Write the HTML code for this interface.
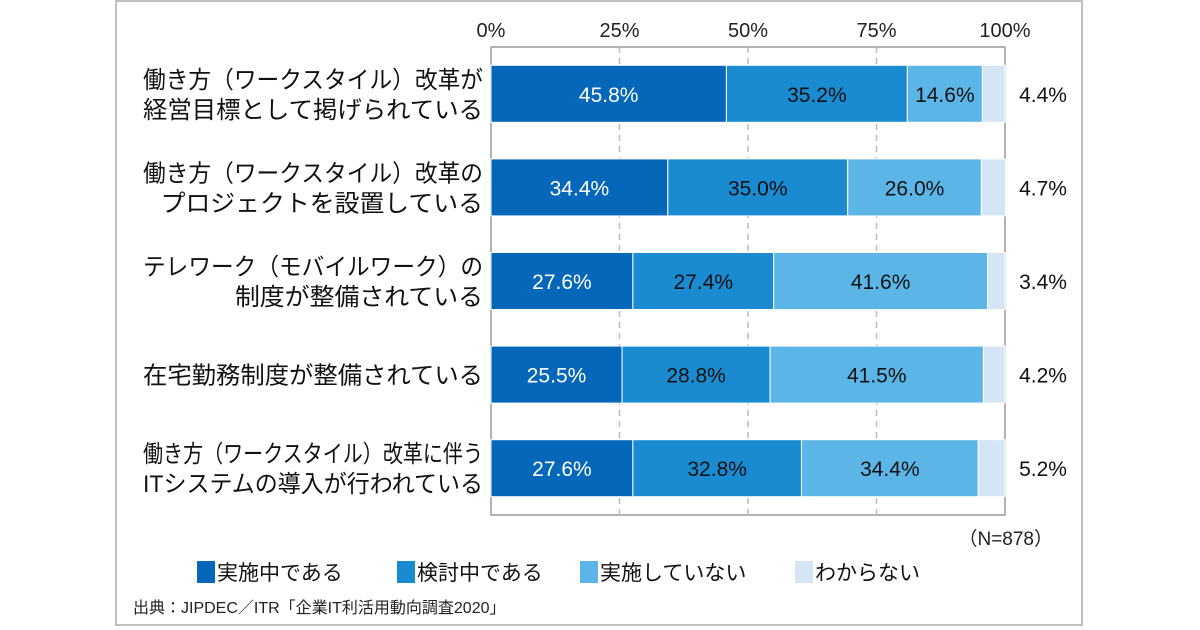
<!DOCTYPE html>
<html><head><meta charset="utf-8"><style>
body{margin:0;background:#fff;width:1200px;height:630px;overflow:hidden}
svg{display:block;font-family:"Liberation Sans","Noto Sans CJK JP",sans-serif}
</style></head><body>
<svg id="chart" width="1200" height="630">
<rect x="116" y="1" width="966" height="624" fill="#fff" stroke="#aaa" stroke-width="1.5"/>
</svg>
<script>
const categories=[["働き方（ワークスタイル）改革が","経営目標として掲げられている"],["働き方（ワークスタイル）改革の","プロジェクトを設置している"],["テレワーク（モバイルワーク）の","制度が整備されている"],["在宅勤務制度が整備されている"],["働き方（ワークスタイル）改革に伴う","ITシステムの導入が行われている"]];
const seriesNames=["実施中である","検討中である","実施していない","わからない"];
const implemented=[45.8,34.4,27.6,25.5,27.6];
const considering=[35.2,35.0,27.4,28.8,32.8];
const notImplemented=[14.6,26.0,41.6,41.5,34.4];
const unknown=[4.4,4.7,3.4,4.2,5.2];
const ticks=[0,25,50,75,100];
const colors=["#0567b9","#1a8bd1","#5cb5e7","#d4e5f6"];
const NS="http://www.w3.org/2000/svg";
const svg=document.getElementById('chart');
const X0=491,X1=1005,Y0=47,Y1=515;
const x=v=>X0+(X1-X0)*v/100;
const rowH=(Y1-Y0)/categories.length;
const yc=i=>Y0+rowH*(i+0.5);
const BH=57;
function el(t,a,txt){const e=document.createElementNS(NS,t);for(const k in a)e.setAttribute(k,a[k]);if(txt!==undefined)e.textContent=txt;svg.appendChild(e);return e;}
function labelWidth(s){let w=0;for(const ch of s){if(ch==='（'||ch==='）')w+=12;else if(ch.charCodeAt(0)<256)w+=10;else w+=24.8;}return Math.min(w,340);}
let f=el('rect',{x:X0,y:Y0,width:X1-X0,height:Y1-Y0,fill:'none',stroke:'#999','stroke-width':1.5});


ticks.forEach(t=>{
  if(t>0&&t<100){let g=el('line',{x1:x(t),x2:x(t),y1:Y0,y2:Y1,stroke:'#bbb','stroke-width':1.5,'stroke-dasharray':'6,5'});
  
  }
  let l=el('text',{x:x(t),y:37,'text-anchor':'middle','font-size':20,fill:'#222'},t+'%');
  
  
});
const series=[implemented,considering,notImplemented,unknown];
categories.forEach((c,i)=>{
  const cy=yc(i);
  const lines=c.length;
  c.forEach((s,j)=>{
    const w=labelWidth(s);
    let t=el('text',{x:483-w,y:cy+9+(j-(lines-1)/2)*30,'font-size':24,fill:'#111',textLength:w,lengthAdjust:'spacingAndGlyphs'},s);
    
    
  });
  let acc=0;
  series.forEach((arr,k)=>{
    const v=arr[i];
    let r=el('rect',{x:x(acc),y:cy-BH/2,width:x(acc+v)-x(acc),height:BH,fill:colors[k],stroke:'#fff','stroke-width':1});
    
    
    const lx=k===3?1043:(x(acc)+x(acc+v))/2;
    let t=el('text',{x:lx,y:cy+8,'text-anchor':'middle','font-size':21,fill:k===0?'#fff':'#111'},v.toFixed(1)+'%');
    
    
    acc+=v;
  });
});
let n=el('text',{x:1053,y:545,'text-anchor':'end','font-size':19,fill:'#222'},'（N=878）');


const lx=[197,397,580,795];
seriesNames.forEach((s,k)=>{
  let r=el('rect',{x:lx[k],y:561,width:18,height:22,fill:colors[k]});
  
  
  let t=el('text',{x:lx[k]+20,y:580,'font-size':21,fill:'#111'},s);
  
  
});
let src=el('text',{x:133,y:613,'font-size':16,fill:'#222'},'出典：JIPDEC／ITR「企業IT利活用動向調査2020」');


</script>
</body></html>
